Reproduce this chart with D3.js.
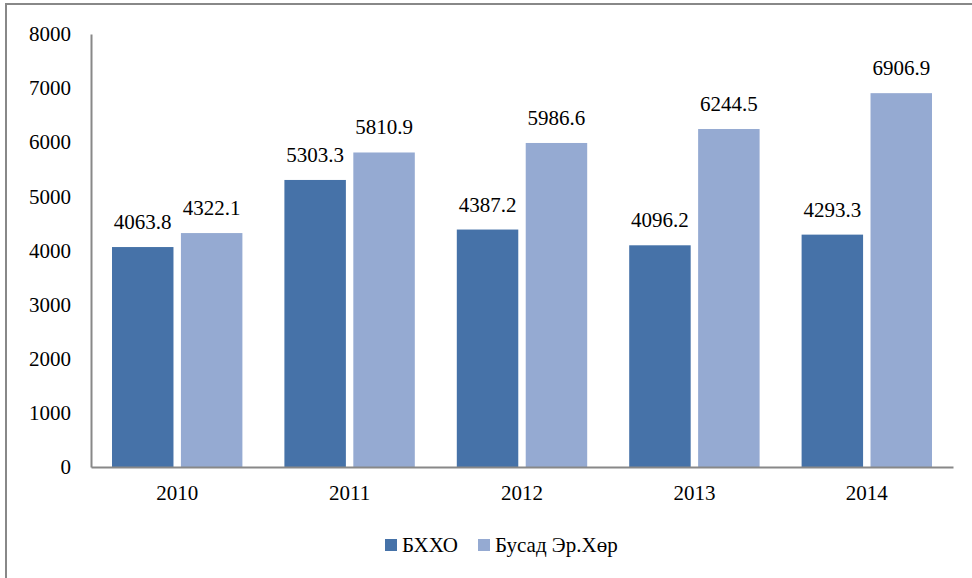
<!DOCTYPE html>
<html>
<head>
<meta charset="utf-8">
<script src="https://cdn.jsdelivr.net/npm/d3@7"></script>
<style>
  body { margin: 0; background: #fff; }
  svg text { font-family: "Liberation Serif", "DejaVu Serif", serif; fill: #000; }
</style>
</head>
<body>
<div id="chart"></div>
<script>
var years = ['2010', '2011', '2012', '2013', '2014'];
var seriesNames = ['БХХО', 'Бусад Эр.Хөр'];
var bkhkho = [4063.8, 5303.3, 4387.2, 4096.2, 4293.3];
var busad = [4322.1, 5810.9, 5986.6, 6244.5, 6906.9];
var yTicks = [0, 1000, 2000, 3000, 4000, 5000, 6000, 7000, 8000];
var colors = ['#4672A8', '#95AAD2'];

var W = 972, H = 578;
var margin = { top: 34, right: 19, bottom: 111, left: 91 };
var serif = '"Liberation Serif", "DejaVu Serif", serif';

var svg = d3.select('#chart').append('svg')
  .attr('width', W)
  .attr('height', H);

// outer frame
svg.append('rect')
  .attr('x', 6).attr('y', 4)
  .attr('width', W + 10).attr('height', H + 10)
  .attr('fill', 'none')
  .attr('stroke', '#888')
  .attr('stroke-width', 2);

var x = d3.scaleBand()
  .domain(years)
  .range([margin.left, W - margin.right]);

var inner = d3.scaleBand()
  .domain([0, 1])
  .range([21, x.bandwidth() - 21])
  .paddingInner(0.108);

var y = d3.scaleLinear()
  .domain([0, 8000])
  .range([H - margin.bottom, margin.top]);

var rows = years.map(function (d, i) {
  return { year: d, values: [bkhkho[i], busad[i]] };
});

var groups = svg.append('g').selectAll('g')
  .data(rows)
  .enter()
  .append('g')
  .attr('transform', function (d) { return 'translate(' + x(d.year) + ',0)'; });

groups.selectAll('rect')
  .data(function (d) { return d.values.map(function (v, k) { return { k: k, v: v }; }); })
  .enter()
  .append('rect')
  .attr('x', function (d) { return inner(d.k); })
  .attr('y', function (d) { return y(d.v); })
  .attr('width', inner.bandwidth())
  .attr('height', function (d) { return y(0) - y(d.v); })
  .attr('fill', function (d) { return colors[d.k]; });

groups.selectAll('text.val')
  .data(function (d) { return d.values.map(function (v, k) { return { k: k, v: v }; }); })
  .enter()
  .append('text')
  .attr('class', 'val')
  .attr('x', function (d) { return inner(d.k) + inner.bandwidth() / 2; })
  .attr('y', function (d) { return y(d.v) - 18; })
  .attr('text-anchor', 'middle')
  .style('font-family', serif)
  .style('font-size', '21px')
  .text(function (d) { return d.v.toFixed(1); });

// y axis
var yAxis = svg.append('g')
  .attr('transform', 'translate(' + margin.left + ',0)')
  .call(d3.axisLeft(y).tickValues(yTicks).tickFormat(d3.format('d')).tickSize(0).tickPadding(20));
yAxis.select('.domain').attr('stroke', '#888').attr('stroke-width', 2);
yAxis.selectAll('text')
  .style('font-size', '21px')
  .style('font-family', serif);

// x axis
var xAxis = svg.append('g')
  .attr('transform', 'translate(0,' + y(0) + ')')
  .call(d3.axisBottom(x).tickSize(0).tickPadding(18));
xAxis.select('.domain').attr('stroke', '#888').attr('stroke-width', 2);
xAxis.selectAll('text')
  .style('font-size', '21px')
  .style('font-family', serif);

// legend
var legendX = [385, 478];
var legend = svg.append('g').selectAll('g')
  .data(seriesNames)
  .enter()
  .append('g')
  .attr('transform', function (d, i) { return 'translate(' + legendX[i] + ',539)'; });

legend.append('rect')
  .attr('width', 12).attr('height', 12)
  .attr('fill', function (d, i) { return colors[i]; });

legend.append('text')
  .attr('x', 17).attr('y', 13)
  .style('font-family', serif)
  .style('font-size', '21px')
  .text(function (d) { return d; });
</script>
</body>
</html>
